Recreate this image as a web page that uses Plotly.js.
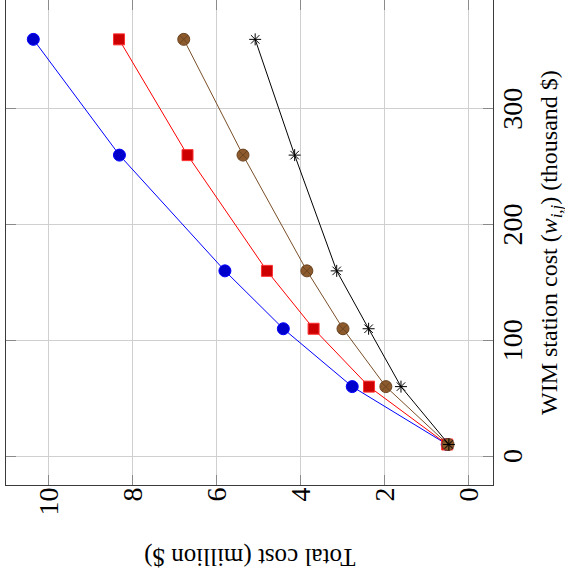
<!DOCTYPE html>
<html>
<head>
<meta charset="utf-8">
<script src="https://cdn.plot.ly/plotly-3.0.1.min.js"></script>
<style>
  html, body { margin: 0; padding: 0; background: #ffffff; width: 565px; height: 578px; overflow: hidden; }
  #chart {
    position: absolute; left: 0; top: 0;
    width: 578px; height: 565px;
    transform-origin: 0 0;
    transform: translate(0px, 578px) rotate(-90deg);
  }
</style>
</head>
<body>
<div id="chart"></div>
<script>
// WIM station cost (thousand $)
const wimCost = [10, 60, 110, 160, 260, 360];
// Total cost (million $) for the four series
const seriesBlue  = [0.50, 2.76, 4.40, 5.79, 8.30, 10.35];
const seriesRed   = [0.50, 2.36, 3.68, 4.79, 6.68, 8.31];
const seriesBrown = [0.48, 1.96, 2.98, 3.84, 5.36, 6.77];
const seriesBlack = [0.46, 1.60, 2.37, 3.13, 4.13, 5.07];
const xTicks = [0, 100, 200, 300];
const yTicks = [0, 2, 4, 6, 8, 10];

const traces = [
  { x: wimCost, y: seriesBlue, mode: 'lines+markers', line: {color: '#0000ff', width: 1},
    marker: {symbol: 'circle', size: 12, color: '#0000cc', line: {color: '#0000ff', width: 1}} },
  { x: wimCost, y: seriesRed, mode: 'lines+markers', line: {color: '#ff0000', width: 1},
    marker: {symbol: 'square', size: 11, color: '#cc0000', line: {color: '#ff3333', width: 1}} },
  { x: wimCost, y: seriesBrown, mode: 'lines+markers', line: {color: '#7a4f28', width: 1},
    marker: {symbol: 'circle-x', size: 12, color: '#8c5a2d', line: {color: '#6b4420', width: 1}} },
  { x: wimCost, y: seriesBlack, mode: 'lines+markers', line: {color: '#000000', width: 1},
    marker: {symbol: 'asterisk-open', size: 10, color: '#000000', line: {color: '#000000', width: 1}} }
];

const font = '"Liberation Serif", "Times New Roman", serif';
const layout = {
  width: 578, height: 565, autosize: false,
  margin: {l: 93, r: 0, t: 6, b: 72, pad: 0},
  paper_bgcolor: '#ffffff', plot_bgcolor: '#ffffff',
  showlegend: false,
  font: {family: font, color: '#000000'},
  xaxis: {
    range: [-25, 394], tickvals: xTicks, ticktext: xTicks.map(String),
    tickfont: {family: font, size: 28, color: '#000000'},
    ticks: 'inside', ticklen: 10, tickcolor: '#8a8a8a', tickwidth: 1,
    showline: true, mirror: 'ticks', linecolor: '#3a3a3a', linewidth: 1,
    showgrid: true, gridcolor: '#cfcfcf', gridwidth: 1, zeroline: false,
    ticklabelstandoff: -6
  },
  yaxis: {
    range: [-0.59, 11.0], tickvals: yTicks, ticktext: yTicks.map(String),
    tickfont: {family: font, size: 28, color: '#000000'},
    ticks: 'inside', ticklen: 10, tickcolor: '#8a8a8a', tickwidth: 1,
    showline: true, mirror: 'ticks', linecolor: '#3a3a3a', linewidth: 1,
    showgrid: true, gridcolor: '#cfcfcf', gridwidth: 1, zeroline: false,
    ticklabelstandoff: -4
  },
  annotations: [
    { text: 'WIM station cost (<i>w</i><sub><i>i,j</i></sub>) (thousand $)', xref: 'paper', yref: 'paper',
      x: 0.5, y: -0.119, xanchor: 'center', yanchor: 'middle', showarrow: false,
      font: {family: font, size: 24, color: '#000000'} },
    { text: 'Total cost (million $)', xref: 'paper', yref: 'paper',
      x: -0.1485, y: 0.5, xanchor: 'center', yanchor: 'middle', textangle: -90, showarrow: false,
      font: {family: font, size: 25, color: '#000000'} }
  ]
};

Plotly.newPlot('chart', traces, layout, {staticPlot: true, displayModeBar: false});
</script>
</body>
</html>
